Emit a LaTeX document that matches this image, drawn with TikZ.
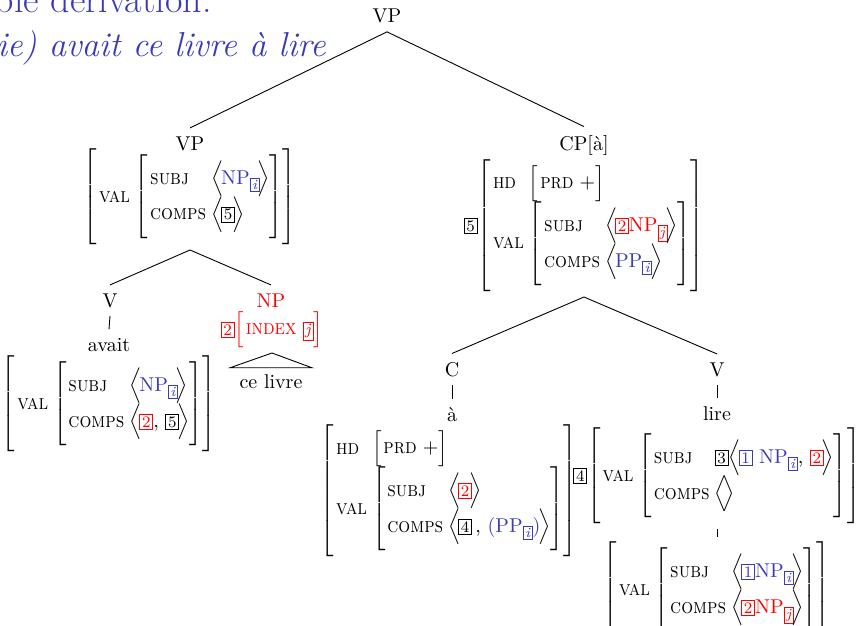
\documentclass[tikz,border=0pt]{standalone}
\usepackage{graphicx}
\usepackage{xcolor}
\definecolor{myblue}{RGB}{58,58,185}
\definecolor{myred}{RGB}{255,0,0}
\newcommand\fs[1]{\scalebox{0.89}[1]{\fontsize{10.5}{12}\selectfont\textsc{#1}}}
\newcommand\tg[2][black]{{\color{#1}\fboxsep=0.9pt\fboxrule=0.45pt\fbox{\footnotesize #2}}}
\newcommand\ix[2][black]{\raisebox{-2.6pt}{\color{#1}\fboxsep=0.8pt\fboxrule=0.4pt\fbox{\scriptsize\itshape #2}}}
\newcommand\bl[1]{{\color{myblue}#1}}
\newcommand\rd[1]{{\color{myred}#1}}
\newcommand\lst[1]{$\delimitershortfall=5pt\Big\langle\mkern-2mu$#1$\mkern-2mu\delimitershortfall=5pt\Big\rangle$}
\newcommand\avm[1]{$\delimitershortfall=-6pt\left[\renewcommand\arraystretch{1.35}\begin{tabular}{@{\hspace{1pt}}l@{\hspace{2.5pt}}l@{}}#1\end{tabular}\right]$}
\newcommand\avms[1]{$\delimitershortfall=-6pt\left[\renewcommand\arraystretch{1}\begin{tabular}{@{\hspace{1pt}}l@{\hspace{3pt}}l@{}}#1\end{tabular}\right]$}
\begin{document}
\begin{tikzpicture}[x=0.5pt,y=-0.5pt,
  lab/.style={inner sep=4pt,anchor=base,font=\fontsize{10}{12}\selectfont},
  avmn/.style={inner sep=0pt,outer sep=2.5pt,anchor=center},
  br/.style={line width=0.45pt},
  hdr/.style={anchor=base east,inner sep=0pt,text=myblue,font=\fontsize{19}{22}\selectfont}]
\useasboundingbox (0,0) rectangle (857,626);
% header text (cut off)
\node[hdr] (h1) at (212,13) {ble derivation:};
\node[hdr,font=\fontsize{17.3}{21}\selectfont\itshape] (h2) at (326,57) {ie) avait ce livre à lire};
% labels
\node[lab] (vp0) at (387,23) {VP};
\node[lab] (vp1) at (190,150) {VP};
\node[lab] (cp) at (584,150) {CP[à]};
\node[lab] (v1) at (110,307) {V};
\node[lab] (avait) at (109,351) {avait};
\node[lab,text=myred] (np) at (271,307) {NP};
\node[inner xsep=4.5pt,inner ysep=3pt,anchor=base] (cel) at (271,388) {ce livre};
\node[lab] (c) at (452,376) {C};
\node[lab] (a) at (452,421) {à};
\node[lab] (v2) at (717,376) {V};
\node[lab] (lire) at (717,420) {lire};
% AVMs
\node[avmn] (m1) at (190,197) {\avm{\fs{val} & \avm{\fs{subj} & \lst{\bl{NP\ix[myblue]{i}}}\\ \fs{comps} & \lst{\tg{5}}}}};
\node[avmn] (m2) at (584,226) {\tg{5}\avm{\fs{hd} & \avms{\fs{prd} & $+$}\\ \fs{val} & \avm{\fs{subj} & \lst{\rd{\tg[myred]{2}NP\ix[myred]{j}}}\\ \fs{comps} & \lst{\bl{PP\ix[myblue]{i}}}}}};
\node[avmn] (m3) at (272,330) {\rd{\tg[myred]{2}\avms{\fs{index} & \tg[myred]{\textit{j}}}}};
\node[avmn] (m4) at (109,404) {\avm{\fs{val} & \avm{\fs{subj} & \lst{\bl{NP\ix[myblue]{i}}}\\ \fs{comps} & \lst{\tg[myred]{2}, \tg{5}}}}};
\node[avmn] (m5) at (449,491) {\avm{\fs{hd} & \avms{\fs{prd} & $+$}\\ \fs{val} & \avm{\fs{subj} & \lst{\tg[myred]{2}}\\ \fs{comps} & \lst{\tg{4}\,, \bl{(PP\ix[myblue]{i})}}}}};
\node[avmn] (m6) at (717,476) {\tg{4}\avm{\fs{val} & \avm{\fs{subj} & \tg{3}\lst{\bl{\tg[myblue]{1} NP\ix[myblue]{i}}, \tg[myred]{2}}\\ \fs{comps} & \lst{}}}};
\node[avmn] (m7) at (717,590) {\avm{\fs{val} & \avm{\fs{subj} & \lst{\bl{\tg[myblue]{1}NP\ix[myblue]{i}}}\\ \fs{comps} & \lst{\rd{\tg[myred]{2}NP\ix[myred]{j}}}}}};
% connectors
\draw[br] (vp0.south) -- (vp1.north);
\draw[br] (vp0.south) -- (cp.north);
\draw[br] (m1.south) -- (v1.north);
\draw[br] (m1.south) -- (np.north);
\draw[br] (v1.south) -- (avait.north);
\draw[br] (m3.south) -- (cel.north west) -- (cel.north east) -- cycle;
\draw[br] (m2.south) -- (c.north);
\draw[br] (m2.south) -- (v2.north);
\draw[br] (c.south) -- (a.north);
\draw[br] (v2.south) -- (lire.north);
\draw[br] (m6.south) -- (m7.north);
\end{tikzpicture}
\end{document}
